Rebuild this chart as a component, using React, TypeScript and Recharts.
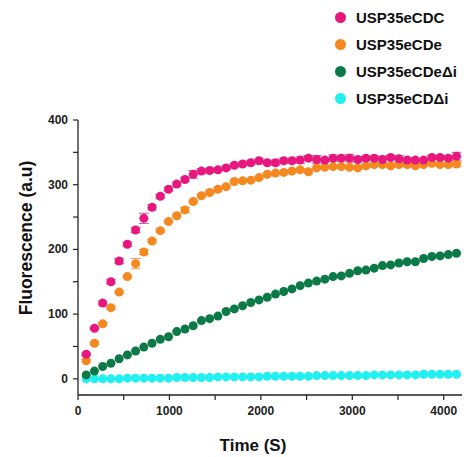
import React from "react";
import { ScatterChart, Scatter, XAxis, YAxis, ErrorBar, Legend } from "recharts";

const times = [90, 180, 270, 360, 450, 540, 630, 720, 810, 900, 990, 1080, 1170, 1260, 1350, 1440, 1530, 1620, 1710, 1800, 1890, 1980, 2070, 2160, 2250, 2340, 2430, 2520, 2610, 2700, 2790, 2880, 2970, 3060, 3150, 3240, 3330, 3420, 3510, 3600, 3690, 3780, 3870, 3960, 4050, 4140];
const cdcValues = [38, 78, 117, 150, 182, 208, 230, 248, 265, 282, 293, 301, 308, 316, 321, 322, 323, 326, 330, 332, 334, 337, 334, 334, 337, 337, 338, 341, 339, 338, 341, 341, 341, 339, 341, 341, 339, 342, 340, 338, 338, 338, 342, 342, 341, 344];
const cdcErrors = [2, 2, 3, 3, 4, 3, 4, 8, 4, 3, 3, 3, 3, 6, 4, 3, 3, 3, 3, 3, 3, 3, 3, 4, 4, 3, 5, 4, 6, 3, 5, 3, 6, 4, 3, 3, 5, 3, 5, 4, 3, 3, 3, 3, 3, 6];
const cdeValues = [28, 55, 85, 110, 134, 158, 178, 196, 213, 229, 243, 252, 261, 274, 283, 288, 293, 297, 305, 306, 307, 311, 316, 318, 319, 321, 323, 320, 326, 327, 328, 328, 327, 326, 329, 331, 331, 329, 331, 331, 329, 331, 333, 331, 331, 332];
const cdeErrors = [2, 2, 2, 2, 2, 2, 8, 4, 2, 2, 2, 2, 4, 2, 2, 2, 3, 2, 2, 2, 2, 2, 2, 2, 2, 2, 2, 2, 2, 2, 2, 2, 2, 2, 2, 2, 2, 2, 2, 2, 2, 2, 2, 2, 2, 4];
const cdeDiValues = [6, 12, 19, 24, 31, 37, 43, 49, 55, 61, 65, 73, 77, 82, 90, 93, 97, 104, 108, 113, 118, 122, 126, 131, 135, 139, 144, 148, 151, 154, 158, 159, 163, 167, 168, 171, 175, 176, 179, 181, 181, 186, 189, 190, 192, 194];
const cdDiValues = [0, 0, 0, 0, 0, 1, 1, 1, 1, 1, 1, 2, 2, 2, 2, 2, 3, 3, 3, 3, 3, 3, 4, 4, 4, 4, 4, 4, 5, 5, 5, 5, 5, 5, 5, 6, 6, 6, 6, 6, 6, 7, 7, 7, 7, 7];

const seriesNames = ["USP35eCDC", "USP35eCDe", "USP35eCDe\u0394i", "USP35eCD\u0394i"];
const seriesColors = ["#E8177F", "#F5881F", "#0B7A46", "#22F0F0"];

const xTicks = [0, 500, 1000, 1500, 2000, 2500, 3000, 3500, 4000];
const yTicks = [0, 50, 100, 150, 200, 250, 300, 350, 400];

const FONT = "'Liberation Sans', Arial, sans-serif";

const mk = (vals: number[], errs?: number[]) =>
  times.map((t, i) => ({ t, v: vals[i], e: errs ? errs[i] : 0 }));

const cdcData = mk(cdcValues, cdcErrors);
const cdeData = mk(cdeValues, cdeErrors);
const cdeDiData = mk(cdeDiValues);
const cdDiData = mk(cdDiValues);

const YTick = (props: any) => {
  const { x, y, payload } = props;
  const major = payload.value % 100 === 0;
  return (
    <g>
      <line x1={x} x2={x - 5} y1={y} y2={y} stroke="#222" strokeWidth={1.2} />
      {major && (
        <text x={x - 10} y={y} textAnchor="end" dominantBaseline="central" fontFamily={FONT} fontWeight="bold" fontSize={12} fill="#222">
          {payload.value}
        </text>
      )}
    </g>
  );
};

const XTick = (props: any) => {
  const { x, y, payload } = props;
  const major = payload.value % 1000 === 0;
  return (
    <g>
      <line x1={x} x2={x} y1={y} y2={y + 5} stroke="#222" strokeWidth={1.2} />
      {major && (
        <text x={x} y={y + 16} textAnchor="middle" dominantBaseline="central" fontFamily={FONT} fontWeight="bold" fontSize={12} fill="#222">
          {payload.value}
        </text>
      )}
    </g>
  );
};

const LegendContent = () => (
  <div style={{ fontFamily: FONT, fontWeight: "bold", fontSize: 15, color: "#111" }}>
    {seriesNames.map((n, i) => (
      <div key={n} style={{ display: "flex", alignItems: "center", height: 27 }}>
        <span style={{ display: "inline-block", width: 11, height: 11, borderRadius: "50%", background: seriesColors[i], marginRight: 10 }} />
        <span>{n}</span>
      </div>
    ))}
  </div>
);

const Dot = (color: string) => (props: any) => {
  const { cx, cy } = props;
  return <circle cx={cx} cy={cy} r={4.5} fill={color} />;
};

export default function App() {
  return (
    <div style={{ position: "absolute", left: 0, top: 0, width: 466, height: 457, overflow: "hidden" }}>
      <ScatterChart width={466} height={457} margin={{ top: 120, right: 4, bottom: 18, left: 28 }}>
        <XAxis
          type="number"
          dataKey="t"
          domain={[0, 4200]}
          ticks={xTicks}
          tickSize={0}
          tickMargin={0}
          tick={<XTick />}
          axisLine={{ stroke: "#222", strokeWidth: 1.3 }}
          tickLine={false}
          height={44}
          allowDataOverflow
          label={{
            content: () => (
              <text x={253} y={445} textAnchor="middle" dominantBaseline="central" fontFamily={FONT} fontWeight="bold" fontSize={17} fill="#111">
                Time (S)
              </text>
            ),
          }}
        />
        <YAxis
          type="number"
          dataKey="v"
          domain={[-25, 400]}
          ticks={yTicks}
          tickSize={0}
          tickMargin={0}
          tick={<YTick />}
          axisLine={{ stroke: "#222", strokeWidth: 1.3 }}
          tickLine={false}
          width={50}
          allowDataOverflow
          label={{
            content: () => (
              <text x={26} y={238} transform="rotate(-90, 26, 238)" textAnchor="middle" dominantBaseline="central" fontFamily={FONT} fontWeight="bold" fontSize={17.5} fill="#111">
                Fluorescence (a.u)
              </text>
            ),
          }}
        />
        <Legend
          verticalAlign="middle"
          align="center"
          layout="vertical"
          wrapperStyle={{ position: "absolute", top: 4, left: 335, width: 131, height: 110 }}
          content={<LegendContent />}
        />
        <Scatter name={seriesNames[3]} data={cdDiData} fill={seriesColors[3]} shape={Dot(seriesColors[3])} isAnimationActive={false} />
        <Scatter name={seriesNames[2]} data={cdeDiData} fill={seriesColors[2]} shape={Dot(seriesColors[2])} isAnimationActive={false} />
        <Scatter name={seriesNames[1]} data={cdeData} fill={seriesColors[1]} shape={Dot(seriesColors[1])} isAnimationActive={false}>
          <ErrorBar dataKey="e" direction="y" width={5} stroke="#E9A060" strokeWidth={1} />
        </Scatter>
        <Scatter name={seriesNames[0]} data={cdcData} fill={seriesColors[0]} shape={Dot(seriesColors[0])} isAnimationActive={false}>
          <ErrorBar dataKey="e" direction="y" width={5} stroke="#C2689A" strokeWidth={1} />
        </Scatter>
      </ScatterChart>
    </div>
  );
}
